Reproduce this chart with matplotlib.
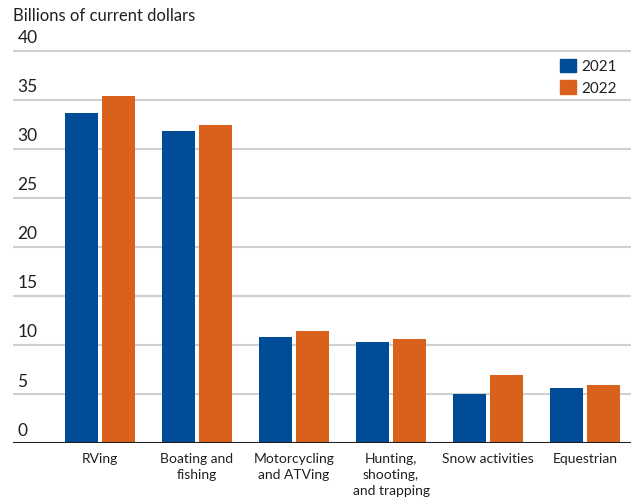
import matplotlib
matplotlib.use("Agg")
import matplotlib.pyplot as plt
import matplotlib.transforms as mtransforms
from matplotlib.patches import Patch
import numpy as np

categories = ["RVing", "Boating and\nfishing", "Motorcycling\nand ATVing",
              "Hunting,\nshooting,\nand trapping", "Snow activities", "Equestrian"]
vals_2021 = [33.6, 31.8, 10.8, 10.3, 5.0, 5.6]
vals_2022 = [35.4, 32.4, 11.4, 10.6, 6.95, 5.9]
yticks = [0, 5, 10, 15, 20, 25, 30, 35, 40]

blue = "#004C97"
orange = "#DA611B"
txt = "#231F20"

plt.rcParams['font.family'] = ['Lato', 'DejaVu Sans']

fig = plt.figure(figsize=(6.31, 4.97), dpi=100)
ax = fig.add_axes([0.0206, 0.1087, 0.9794, 0.7933])

x = np.arange(len(categories))
w = 0.34
off = 0.19
ax.bar(x - off, vals_2021, w, color=blue, zorder=3)
ax.bar(x + off, vals_2022, w, color=orange, zorder=3)

ax.set_xlim(-0.897, 5.474)
ax.set_ylim(0, 40.2)

for t in yticks[1:]:
    ax.axhline(t, color="#D0D0D0", linewidth=1.5, zorder=1)
ax.axhline(0, color="#231F20", linewidth=1.5, zorder=4)

# y labels sit on top of the gridlines
trans = mtransforms.blended_transform_factory(ax.transAxes, ax.transData)
for t in yticks:
    ax.text(0.007, t + 0.45, str(t), transform=trans, ha="left", va="bottom",
            fontsize=12.5, color=txt)

ax.set_yticks([])
ax.set_xticks(x)
ax.set_xticklabels(categories, fontsize=10, color=txt, linespacing=1.4, va="top")
ax.tick_params(axis="x", length=0, pad=7)
for s in ax.spines.values():
    s.set_visible(False)

fig.text(0.0206, 0.967, "Billions of current dollars", fontsize=12, color=txt,
         ha="left", va="center")

handles = [Patch(color=blue, label="2021"), Patch(color=orange, label="2022")]
ax.legend(handles=handles, loc="upper right", bbox_to_anchor=(1.0, 1.01),
          frameon=False, fontsize=11, handlelength=1.0, handleheight=1.0,
          handletextpad=0.4, labelspacing=0.45, labelcolor=txt)

fig.savefig("out.png", dpi=100)
